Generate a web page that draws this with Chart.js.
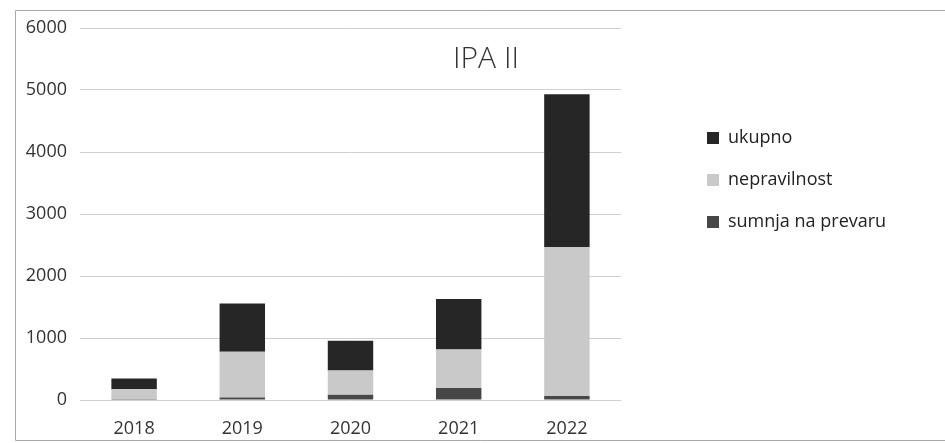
<html>
  <head>
    <title>IPA II</title>
    <script src="https://cdn.jsdelivr.net/npm/chart.js"></script>
    <style type="text/css">
      html, body { margin: 0; padding: 0; background: #ffffff; }
      #wrap { width: 945px; height: 443px; position: relative; }
    </style>
  </head>
  <body>
    <div id="wrap">
      <canvas id="barChart" width="945" height="443"></canvas>
    </div>
    <script>
      // data
      var years = ['2018', '2019', '2020', '2021', '2022'];
      var sumnja = [5, 40, 85, 195, 65];
      var nepravilnost = [170, 740, 390, 620, 2400];
      var ukupno = [170, 775, 480, 815, 2465];
      var yTicks = [0, 1000, 2000, 3000, 4000, 5000, 6000];

      var font = "'Open Sans', 'Liberation Sans', sans-serif";

      // frame round the chart and the title inside the plot
      var decor = {
        id: 'decor',
        beforeDraw: function(chart) {
          var ctx = chart.ctx;
          ctx.save();
          ctx.strokeStyle = '#a8a8a8';
          ctx.lineWidth = 1;
          ctx.beginPath();
          ctx.moveTo(946, 10.5);
          ctx.lineTo(15.5, 10.5);
          ctx.lineTo(15.5, 440.5);
          ctx.lineTo(946, 440.5);
          ctx.stroke();
          ctx.restore();
        },
        afterDraw: function(chart) {
          var ctx = chart.ctx;
          ctx.save();
          ctx.fillStyle = '#333333';
          ctx.font = '300 30px ' + font;
          ctx.textAlign = 'center';
          ctx.textBaseline = 'middle';
          ctx.fillText('IPA II', 486, 59);
          ctx.restore();
        }
      };

      // keep the legend away from the plot, like in the original
      var legendPlace = {
        id: 'legendPlace',
        beforeLayout: function(chart) {
          var lg = chart.legend;
          if (lg && !lg._patched) {
            var fit = lg.fit;
            lg.fit = function() {
              fit.call(this);
              this.width = 945 - 621;
            };
            lg._patched = true;
          }
        },
        afterLayout: function(chart) {
          var lg = chart.legend;
          var h = lg.bottom - lg.top;
          lg.left = 683;
          lg.right = 945;
          lg.top = 105;
          lg.bottom = 105 + h;
        }
      };

      var ctx = document.getElementById('barChart').getContext('2d');
      new Chart(ctx, {
        type: 'bar',
        data: {
          labels: years,
          datasets: [
            { label: 'sumnja na prevaru', data: sumnja, backgroundColor: '#474747', borderWidth: 0 },
            { label: 'nepravilnost', data: nepravilnost, backgroundColor: '#c9c9c9', borderWidth: 0 },
            { label: 'ukupno', data: ukupno, backgroundColor: '#262626', borderWidth: 0 }
          ]
        },
        options: {
          responsive: false,
          animation: false,
          events: [],
          layout: { padding: { left: 0, top: 28, right: 0, bottom: 0 } },
          datasets: {
            bar: { categoryPercentage: 1.0, barPercentage: 0.42 }
          },
          plugins: {
            title: { display: false },
            tooltip: { enabled: false },
            legend: {
              position: 'right',
              align: 'start',
              reverse: true,
              labels: {
                boxWidth: 12,
                boxHeight: 12,
                padding: 24,
                color: '#222222',
                font: { family: font, size: 18 }
              }
            }
          },
          scales: {
            x: {
              stacked: true,
              grid: { display: false },
              border: { display: false },
              ticks: { color: '#333333', padding: 10, font: { family: font, size: 18 } },
              afterFit: function(scale) { scale.height = 43; }
            },
            y: {
              stacked: true,
              min: 0,
              max: 6000,
              afterBuildTicks: function(scale) {
                scale.ticks = yTicks.map(function(v) { return { value: v }; });
              },
              grid: { color: '#cfcfcf', lineWidth: 1, drawTicks: false },
              border: { display: false },
              ticks: {
                color: '#333333',
                padding: 13,
                font: { family: font, size: 18 },
                callback: function(v) { return String(v); }
              },
              afterFit: function(scale) { scale.width = 80; }
            }
          }
        },
        plugins: [decor, legendPlace]
      });
    </script>
  </body>
</html>
